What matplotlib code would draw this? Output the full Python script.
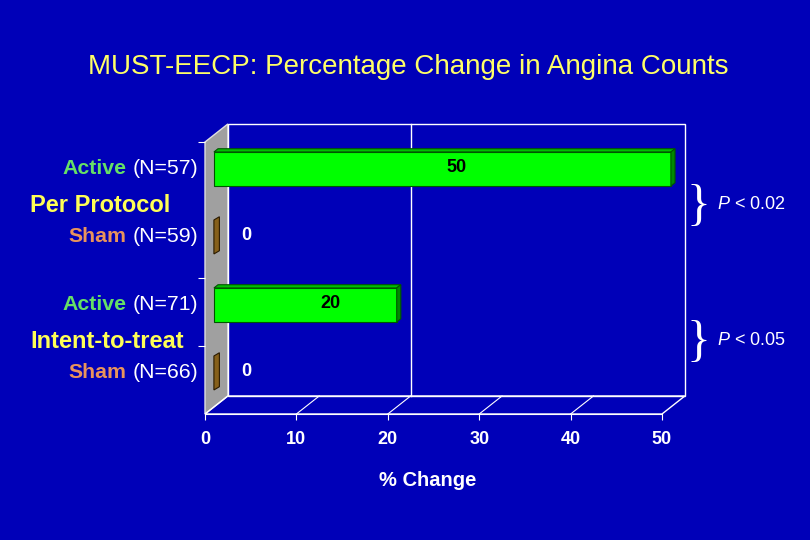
import matplotlib
matplotlib.use('Agg')
import matplotlib.pyplot as plt
from matplotlib.patches import Polygon

plt.rcParams['font.family'] = ['Liberation Sans', 'DejaVu Sans']
plt.rcParams['mathtext.fontset'] = 'custom'
plt.rcParams['mathtext.it'] = 'Liberation Sans:italic'
plt.rcParams['mathtext.rm'] = 'Liberation Sans'

# data
title = 'MUST-EECP: Percentage Change in Angina Counts'
groups = ['Per Protocol', 'Intent-to-treat']
p_values = ['0.02', '0.05']
arms = ['Active', 'Sham', 'Active', 'Sham']
counts = [57, 59, 71, 66]
changes = [50, 0, 20, 0]
xticks = [0, 10, 20, 30, 40, 50]
xlabel = '% Change'

BG = '#0000B8'
ARM_COLORS = {'Active': '#66E066', 'Sham': '#E8935C'}
BAR_STYLE = {
    'Active': dict(face='#00FF00', top='#00C000', side='#008A00', edge='#005500'),
    'Sham': dict(face='#86601A', top='#6E4E10', side='#86601A', edge='#2A1A00'),
}

# fake 3d: depth offset in data units, bar sits between ZF and ZB of the depth
DX, DY = 2.5, 0.265
ZF, ZB = 0.39, 0.57
H = 0.5
n = len(arms)


def bar3d(ax, v, yc, st):
    y0, y1 = yc - H / 2, yc + H / 2
    xf, yf = DX * ZF, DY * ZF
    xb, yb = DX * ZB, DY * ZB
    kw = dict(ec=st['edge'], lw=0.8, clip_on=False, zorder=5)
    if v > 0:
        ax.add_patch(Polygon([(xf, y1 + yf), (v + xf, y1 + yf), (v + xb, y1 + yb), (xb, y1 + yb)],
                             fc=st['top'], **kw))
        ax.add_patch(Polygon([(xf, y0 + yf), (v + xf, y0 + yf), (v + xf, y1 + yf), (xf, y1 + yf)],
                             fc=st['face'], **kw))
        sx0, sx1 = v + xf, v + xb
    else:
        # zero bar: only the thin depth face shows
        sx0, sx1 = xf, xb + 0.15
    ax.add_patch(Polygon([(sx0, y0 + yf), (sx0, y1 + yf), (sx1, y1 + yb), (sx1, y0 + yb)],
                         fc=st['side'], **kw))


fig = plt.figure(figsize=(8.1, 5.4), dpi=100, facecolor=BG)
ax = fig.add_axes([205 / 810, 126 / 540, 457 / 810, 272 / 540])
ax.set_facecolor('none')
xmax = xticks[-1]
ax.set_xlim(0, xmax)
ax.set_ylim(0, n)

# walls and floor
ax.add_patch(Polygon([(0, 0), (0, n), (DX, n + DY), (DX, DY)], fc='#A0A0A0', ec='#E0E0E0',
                     lw=1, clip_on=False, zorder=1))
ax.add_patch(Polygon([(DX, DY), (xmax + DX, DY), (xmax + DX, n + DY), (DX, n + DY)], fc='none',
                     ec='white', lw=1, clip_on=False, zorder=1))
ax.add_patch(Polygon([(0, 0), (xmax, 0), (xmax + DX, DY), (DX, DY)], fc='none', ec='white',
                     lw=1, clip_on=False, zorder=1))
for t in xticks[1:-1]:
    ax.plot([t, t + DX], [0, DY], color='white', lw=0.8, clip_on=False, zorder=1)
ax.plot([20 + DX, 20 + DX], [DY, n + DY], color='white', lw=1, clip_on=False, zorder=1)

# bars and labels
for i, (arm, cnt, v) in enumerate(zip(arms, counts, changes)):
    yc = n - 0.5 - i
    bar3d(ax, v, yc, BAR_STYLE[arm])
    lx = v * 0.46 + 4.5
    ax.text(lx, yc + 0.13, str(v), ha='center', va='center', fontsize=13, fontweight='bold',
            color='black' if v > 0 else 'white', zorder=6)
    t = ax.text(-0.75, yc + DY * ZF, '(N=%d)' % cnt, ha='right', va='center', color='white',
                fontsize=15.3)
    ax.annotate(arm, xy=(0, 0.5), xycoords=t, xytext=(-4, 0), textcoords='offset points',
                ha='right', va='center', color=ARM_COLORS[arm], fontsize=15.3, fontweight='bold')

for g, (name, p) in enumerate(zip(groups, p_values)):
    ym = n - 1 - 2 * g + 0.065
    ax.text(-19.15, ym, name, ha='left', va='center', color='#FFFF55', fontsize=17,
            fontweight='bold')
    ax.text(54.0, ym - 0.02, '}', ha='center', va='center', color='white', fontsize=36,
            family='Liberation Serif', clip_on=False)
    ax.text(56.0, ym + 0.01, '$P$ < ' + p, ha='left', va='center', color='white', fontsize=13)

# axes decoration
for s in ['top', 'right']:
    ax.spines[s].set_visible(False)
ax.spines['bottom'].set_color('white')
ax.spines['left'].set_visible(False)
ax.set_xticks(xticks)
ax.set_xticklabels([str(x) for x in xticks], fontweight='bold')
ax.tick_params(axis='x', colors='white', length=4, pad=8, labelsize=13)
ax.set_yticks([1, 2, 4])
ax.set_yticklabels([])
ax.tick_params(axis='y', colors='white', length=5)
ax.set_xlabel(xlabel, color='white', fontsize=14.5, fontweight='bold')
ax.xaxis.set_label_coords(223 / 457, -0.246)
ax.xaxis.label.set_va('center')

fig.text(0.504, 1 - 67 / 540, title, ha='center', va='center', color='#FFFF66', fontsize=20)

fig.savefig('out.png', dpi=100, facecolor=BG)
